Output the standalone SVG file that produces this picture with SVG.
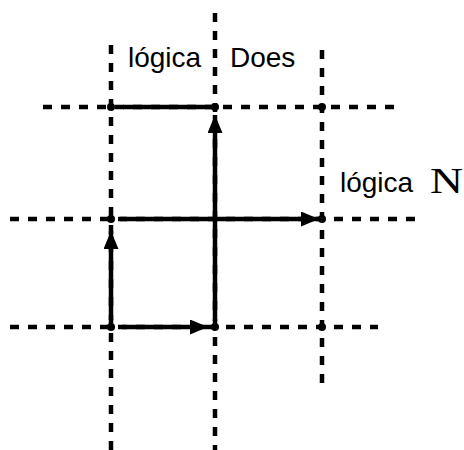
<svg xmlns="http://www.w3.org/2000/svg" width="464" height="450" viewBox="0 0 464 450">
<style>
.grid{stroke:#000;stroke-width:4.5;stroke-dasharray:9 9;fill:none}
.solid{stroke:#000;stroke-width:4.5;fill:none}
.dot{fill:#000}
.lbl{font-family:"Liberation Sans",Arial,sans-serif;font-size:28px;fill:#000}
.ser{font-family:"Liberation Serif","Times New Roman",serif;font-size:36px;fill:#000}
</style>
<defs>
<marker id="ah" markerUnits="userSpaceOnUse" markerWidth="20" markerHeight="16" refX="18" refY="7.5" orient="auto">
<path d="M0,0 L18,7.5 L0,15 Z" fill="#000"/>
</marker>
</defs>
<rect width="464" height="450" fill="#fff"/>
<g id="grid">
<line class="grid" x1="111" y1="45" x2="111" y2="450"/>
<line class="grid" x1="215" y1="13" x2="215" y2="450"/>
<line class="grid" x1="322" y1="50" x2="322" y2="383"/>
<line class="grid" x1="43" y1="107" x2="398" y2="107"/>
<line class="grid" x1="10" y1="219" x2="417" y2="219"/>
<line class="grid" x1="10" y1="327" x2="378" y2="327"/>
</g>
<g id="dots">
<circle class="dot" cx="111" cy="107" r="4"/>
<circle class="dot" cx="215" cy="107" r="4"/>
<circle class="dot" cx="322" cy="107" r="4"/>
<circle class="dot" cx="111" cy="219" r="4"/>
<circle class="dot" cx="322" cy="219" r="4"/>
<circle class="dot" cx="111" cy="327" r="4"/>
<circle class="dot" cx="215" cy="327" r="4"/>
<circle class="dot" cx="322" cy="327" r="4"/>
</g>
<g id="connectors">
<line class="solid" x1="123" y1="107" x2="213" y2="107"/>
<line class="solid" x1="215" y1="321" x2="215" y2="115" marker-end="url(#ah)"/>
<line class="solid" x1="120" y1="219" x2="319" y2="219" marker-end="url(#ah)"/>
<line class="solid" x1="111" y1="320" x2="111" y2="231" marker-end="url(#ah)"/>
<line class="solid" x1="122" y1="327" x2="208" y2="327" marker-end="url(#ah)"/>
</g>
<g id="labels">
<text class="lbl" x="128" y="67">lógica</text>
<text class="lbl" x="230" y="67">Does</text>
<text class="lbl" x="340" y="192">lógica</text>
<text class="ser" x="430" y="193" textLength="33" lengthAdjust="spacingAndGlyphs">N</text>
</g>
</svg>
